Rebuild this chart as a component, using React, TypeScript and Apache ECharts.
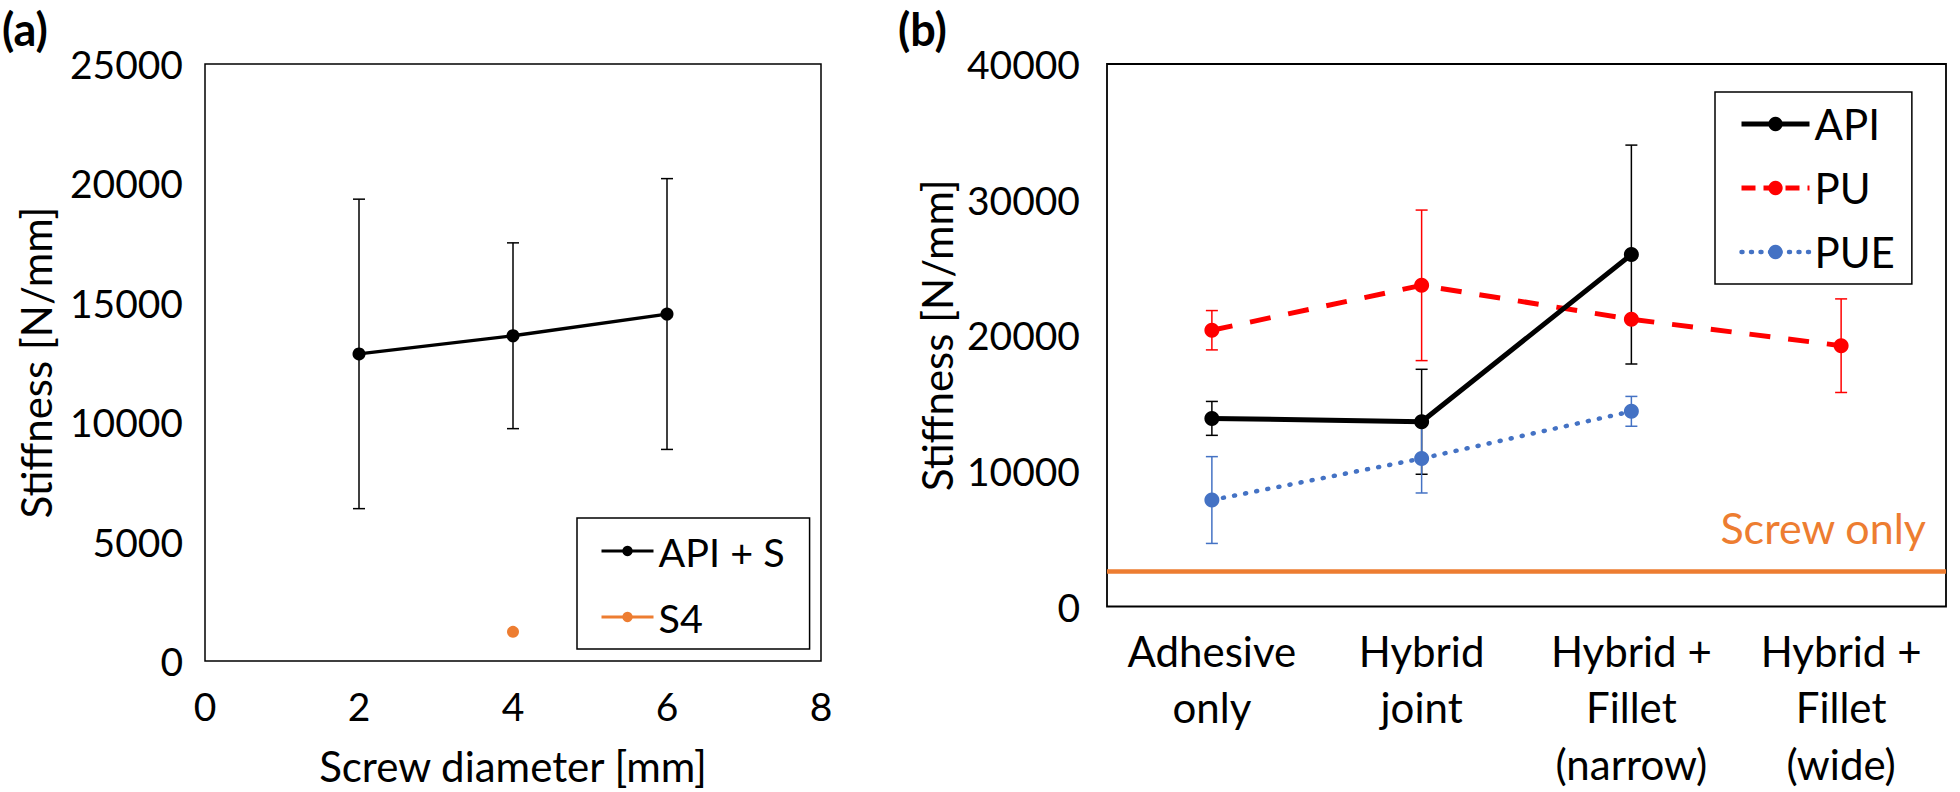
import React, { useEffect, useRef } from "react";
import * as echarts from "echarts";

// ---- Panel (a) data ----
const diameters = [2, 4, 6];
const apiS = [12860, 13620, 14530];
const apiSErr = [6480, 3890, 5670];
const s4Diameter = [4];
const s4 = [1220];

// ---- Panel (b) data ----
const joints = [
  "Adhesive\nonly",
  "Hybrid\njoint",
  "Hybrid +\nFillet\n(narrow)",
  "Hybrid +\nFillet\n(wide)",
];
const api = [13870, 13620, 25950, null];
const apiErr = [1250, 3870, 8070, null];
const pu = [20370, 23680, 21180, 19230];
const puErr = [1450, 5550, null, 3450];
const pue = [7850, 10910, 14390, null];
const pueErr = [3200, 2540, 1100, null];
const screwOnly = 2610;

const FONT = "Lato";
const BLACK = "#000000";
const RED = "#FF0000";
const BLUE = "#4472C4";
const ORANGE = "#ED7D31";

function errData(xs: (number | string)[], vals: (number | null)[], errs: (number | null)[], useIndex: boolean) {
  const out: any[] = [];
  vals.forEach((v, i) => {
    const e = errs[i];
    if (v == null || e == null) return;
    out.push([useIndex ? i : xs[i], v, e]);
  });
  return out;
}

function errorRenderer(color: string, capHalf: number) {
  return (params: any, apiR: any) => {
    const x = apiR.value(0);
    const v = apiR.value(1);
    const e = apiR.value(2);
    const top = apiR.coord([x, v + e]);
    const bot = apiR.coord([x, v - e]);
    const style = { stroke: color, lineWidth: 1.5 };
    return {
      type: "group",
      children: [
        { type: "line", shape: { x1: top[0], y1: top[1], x2: bot[0], y2: bot[1] }, style },
        { type: "line", shape: { x1: top[0] - capHalf, y1: top[1], x2: top[0] + capHalf, y2: top[1] }, style },
        { type: "line", shape: { x1: bot[0] - capHalf, y1: bot[1], x2: bot[0] + capHalf, y2: bot[1] }, style },
      ],
    };
  };
}

export default function App() {
  const ref = useRef<HTMLDivElement>(null);
  useEffect(() => {
    if (!ref.current) return;
    const chart = echarts.init(ref.current, null, { renderer: "svg" });
    const numLabel = {
      color: BLACK, fontSize: 39, fontFamily: FONT, lineHeight: 39,
      formatter: (v: number) => String(v),
    };
    const nameStyle = { color: BLACK, fontSize: 42, fontFamily: FONT, lineHeight: 42 };
    const option: any = {
      animation: false,
      backgroundColor: "#ffffff",
      textStyle: { fontFamily: FONT, color: BLACK },
      graphic: [
        { type: "text", left: 2, top: 6, style: { text: "(a)", font: `bold 45px ${FONT}`, fill: BLACK } },
        { type: "text", left: 898, top: 6, style: { text: "(b)", font: `bold 45px ${FONT}`, fill: BLACK } },
      ],
      grid: [
        { left: 205, top: 64, width: 616, height: 597, show: true, borderColor: "#000", borderWidth: 1.5, backgroundColor: "transparent" },
        { left: 1107, top: 64, width: 839, height: 545, show: true, borderColor: "#000", borderWidth: 1.8, backgroundColor: "transparent" },
      ],
      xAxis: [
        {
          gridIndex: 0, type: "value", min: 0, max: 8, interval: 2,
          axisLine: { show: false }, axisTick: { show: false }, splitLine: { show: false },
          axisLabel: { ...numLabel, margin: 25 },
          name: "Screw diameter [mm]", nameLocation: "middle", nameGap: 84,
          nameTextStyle: nameStyle,
        },
        {
          gridIndex: 1, type: "category", data: joints, boundaryGap: true,
          axisLine: { show: false }, axisTick: { show: false }, splitLine: { show: false },
          axisLabel: { color: BLACK, fontSize: 42, fontFamily: FONT, lineHeight: 56.5, margin: 16, interval: 0 },
        },
      ],
      yAxis: [
        {
          gridIndex: 0, type: "value", min: 0, max: 25000, interval: 5000,
          axisLine: { show: false }, axisTick: { show: false }, splitLine: { show: false },
          axisLabel: { ...numLabel, margin: 22 },
          name: "Stiffness [N/mm]", nameLocation: "middle", nameGap: 148,
          nameTextStyle: nameStyle,
        },
        {
          gridIndex: 1, type: "value", min: 0, max: 40000, interval: 10000,
          axisLine: { show: false }, axisTick: { show: false }, splitLine: { show: false },
          axisLabel: { ...numLabel, margin: 27 },
          name: "Stiffness [N/mm]", nameLocation: "middle", nameGap: 149,
          nameTextStyle: nameStyle,
        },
      ],
      legend: [
        {
          data: [
            { name: "API + S", lineStyle: { width: 3, color: BLACK }, itemStyle: { color: BLACK } },
            { name: "S4", lineStyle: { width: 3, color: ORANGE }, itemStyle: { color: ORANGE } },
          ],
          orient: "vertical", left: 577, top: 518,
          padding: [12, 25, 11, 23], itemGap: 24, itemWidth: 52, itemHeight: 13,
          borderColor: BLACK, borderWidth: 1.5, backgroundColor: "#fff",
          textStyle: { color: BLACK, fontSize: 39.5, fontFamily: FONT, lineHeight: 42 },
          selectedMode: false,
        },
        {
          data: [
            { name: "API", lineStyle: { width: 5, color: BLACK, type: "solid" }, itemStyle: { color: BLACK } },
            { name: "PU", lineStyle: { width: 5, color: RED, type: [14, 8] }, itemStyle: { color: RED } },
            { name: "PUE", lineStyle: { width: 4.5, color: BLUE, type: [1, 8.5], cap: "round" }, itemStyle: { color: BLUE } },
          ],
          orient: "vertical", left: 1715, top: 92,
          padding: [11, 17, 11, 24], itemGap: 22, itemWidth: 68, itemHeight: 18,
          borderColor: BLACK, borderWidth: 1.5, backgroundColor: "#fff",
          textStyle: { color: BLACK, fontSize: 42, fontFamily: FONT, lineHeight: 42 },
          selectedMode: false,
        },
      ],
      series: [
        // Panel (a)
        {
          name: "API + S err", type: "custom", xAxisIndex: 0, yAxisIndex: 0, z: 1,
          renderItem: errorRenderer(BLACK, 6),
          data: errData(diameters, apiS, apiSErr, false), silent: true,
        },
        {
          name: "API + S", type: "line", xAxisIndex: 0, yAxisIndex: 0, z: 3,
          data: diameters.map((d, i) => [d, apiS[i]]),
          symbol: "circle", symbolSize: 13,
          lineStyle: { color: BLACK, width: 3.3 }, itemStyle: { color: BLACK },
        },
        {
          name: "S4", type: "line", xAxisIndex: 0, yAxisIndex: 0, z: 3,
          data: s4Diameter.map((d, i) => [d, s4[i]]),
          symbol: "circle", symbolSize: 12,
          lineStyle: { color: ORANGE, width: 3 }, itemStyle: { color: ORANGE },
        },
        // Panel (b)
        {
          name: "API err", type: "custom", xAxisIndex: 1, yAxisIndex: 1, z: 1,
          renderItem: errorRenderer(BLACK, 6),
          data: errData(joints, api, apiErr, true), silent: true,
        },
        {
          name: "PU err", type: "custom", xAxisIndex: 1, yAxisIndex: 1, z: 1,
          renderItem: errorRenderer(RED, 6),
          data: errData(joints, pu, puErr, true), silent: true,
        },
        {
          name: "PUE err", type: "custom", xAxisIndex: 1, yAxisIndex: 1, z: 1,
          renderItem: errorRenderer(BLUE, 6),
          data: errData(joints, pue, pueErr, true), silent: true,
        },
        {
          name: "PUE", type: "line", xAxisIndex: 1, yAxisIndex: 1, z: 3,
          data: pue, symbol: "circle", symbolSize: 15,
          lineStyle: { color: BLUE, width: 4.5, type: [1, 10.3], cap: "round" },
          itemStyle: { color: BLUE },
        },
        {
          name: "PU", type: "line", xAxisIndex: 1, yAxisIndex: 1, z: 4,
          data: pu, symbol: "circle", symbolSize: 15,
          lineStyle: { color: RED, width: 5, type: [21, 18] },
          itemStyle: { color: RED },
        },
        {
          name: "API", type: "line", xAxisIndex: 1, yAxisIndex: 1, z: 5,
          data: api, symbol: "circle", symbolSize: 15,
          lineStyle: { color: BLACK, width: 5 },
          itemStyle: { color: BLACK },
        },
        {
          name: "Screw only", type: "line", xAxisIndex: 1, yAxisIndex: 1, z: 2,
          data: [], symbol: "none",
          markLine: {
            silent: true, symbol: ["none", "none"],
            lineStyle: { color: ORANGE, width: 4.5, type: "solid", opacity: 1 },
            label: {
              show: true, position: "insideEndTop", formatter: "Screw only",
              color: ORANGE, fontSize: 43, fontFamily: FONT, distance: [20, 22],
            },
            emphasis: { disabled: true },
            data: [{ yAxis: screwOnly }],
          },
        },
      ],
    };
    chart.setOption(option);
    return () => chart.dispose();
  }, []);
  return (
    <div
      ref={ref}
      style={{ position: "fixed", left: 0, top: 0, width: 1960, height: 792, background: "#fff" }}
    />
  );
}
